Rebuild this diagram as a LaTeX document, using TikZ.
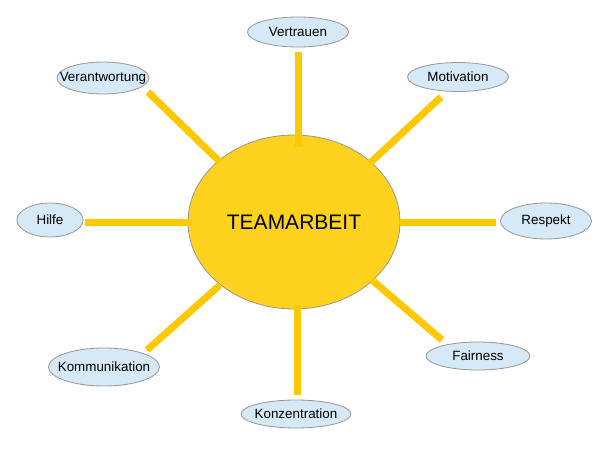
\documentclass[tikz,border=0pt]{standalone}
\usepackage{fontspec}
\setmainfont{Liberation Sans}
\usetikzlibrary{shapes.geometric}
\definecolor{spoke}{RGB}{255,200,0}
\definecolor{sun}{RGB}{255,210,30}
\definecolor{bubble}{RGB}{214,233,246}
\definecolor{rim}{RGB}{150,150,150}
\newcommand{\bubtext}[1]{\makebox[0pt]{#1}}
\begin{document}
\begin{tikzpicture}[x=1pt,y=-1pt,
  bubblenode/.style={ellipse,draw=rim,fill=bubble,line width=0.8pt,inner sep=0pt,font=\fontsize{13.4}{16}\selectfont},
  spokeline/.style={draw=spoke,line width=7pt}]
\useasboundingbox (0,0) rectangle (600,450);
\node[ellipse,draw=rim,fill=sun,line width=0.8pt,minimum width=212pt,minimum height=174pt,inner sep=0pt,font=\fontsize{21}{25}\selectfont] (c) at (294,222) {TEAMARBEIT};
\node[bubblenode,minimum width=101pt,minimum height=30pt] (vt) at (298,32) {\bubtext{Vertrauen}};
\node[bubblenode,minimum width=101pt,minimum height=29pt] (mo) at (458,77) {\bubtext{Motivation}};
\node[bubblenode,minimum width=92pt,minimum height=32pt] (va) at (103,78) {\bubtext{Verantwortung}};
\node[bubblenode,minimum width=66pt,minimum height=34pt] (hi) at (50,220) {\bubtext{Hilfe}};
\node[bubblenode,minimum width=91pt,minimum height=36pt] (re) at (546,221) {\bubtext{Respekt}};
\node[bubblenode,minimum width=111pt,minimum height=38pt] (ko) at (104,367) {\bubtext{Kommunikation}};
\node[bubblenode,minimum width=110pt,minimum height=28pt] (kz) at (296,414) {\bubtext{Konzentration}};
\node[bubblenode,minimum width=104pt,minimum height=28pt] (fa) at (478,356) {\bubtext{Fairness}};
% spoke ends
\coordinate (vt1) at (298,52);  \coordinate (vt2) at (298,147);
\coordinate (mo1) at (441,97);  \coordinate (mo2) at (370,163);
\coordinate (va1) at (148,92);  \coordinate (va2) at (220,162);
\coordinate (hi1) at (85,222);  \coordinate (hi2) at (192,222);
\coordinate (re1) at (400,222); \coordinate (re2) at (496,222);
\coordinate (ko1) at (147,350); \coordinate (ko2) at (220,285);
\coordinate (kz1) at (297,305); \coordinate (kz2) at (297,395);
\coordinate (fa1) at (372,280); \coordinate (fa2) at (442,340);
\foreach \a in {vt,mo,va,hi,re,ko,kz,fa}
  \draw[spokeline] (\a1) -- (\a2);
\end{tikzpicture}
\end{document}
